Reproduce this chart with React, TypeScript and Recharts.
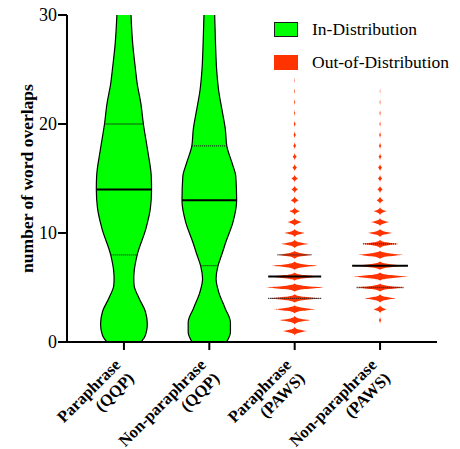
import React from 'react'
import {
  ComposedChart,
  Area,
  XAxis,
  YAxis,
  ReferenceLine,
  Legend,
  Label,
} from 'recharts'

const FONT = '"Liberation Serif", "Times New Roman", serif'
const GREEN = '#00ff00'
const RED = '#ff3300'
const HALF_WIDTH = 0.33 // max half-width of a violin, in category units

// category labels (two lines each)
const CATEGORY_TOP = ['Paraphrase', 'Non-paraphrase', 'Paraphrase', 'Non-paraphrase']
const CATEGORY_BOTTOM = ['(QQP)', '(QQP)', '(PAWS)', '(PAWS)']
const Y_TICKS = [0, 10, 20, 30]

// in-distribution violins: relative density read at these overlap counts
const QQP_PARA_Y = [0, 0.6, 1.6, 2.8, 4, 5.2, 5.8, 6.4, 8, 10.4, 12.3, 14, 15.2, 17.6, 20, 21.9, 23.7, 25, 27.4, 30]
const QQP_PARA_DENSITY = [0.61, 0.76, 0.83, 0.76, 0.54, 0.36, 0.35, 0.36, 0.47, 0.78, 0.94, 0.98, 0.97, 0.84, 0.69, 0.6, 0.47, 0.41, 0.31, 0.25]
const QQP_NON_Y = [0, 0.9, 1.8, 3.1, 4.6, 5.8, 7, 8, 9.2, 11, 13, 15.2, 16.4, 18, 19.5, 21.3, 23.1, 25, 27.4, 30]
const QQP_NON_DENSITY = [0.61, 0.75, 0.75, 0.56, 0.33, 0.24, 0.31, 0.44, 0.59, 0.84, 0.97, 0.94, 0.81, 0.62, 0.57, 0.45, 0.33, 0.26, 0.22, 0.19]

// out-of-distribution: discrete counts, density per integer value
const PAWS_PARA_Y = [1, 2, 3, 4, 5, 6, 7, 8, 9, 10, 11, 12, 13, 14, 15, 16, 17, 18, 19, 20, 21, 22, 23, 24]
const PAWS_PARA_DENSITY = [0.43, 0.53, 0.74, 0.94, 1.0, 0.94, 0.79, 0.61, 0.47, 0.34, 0.25, 0.18, 0.14, 0.11, 0.11, 0.08, 0.07, 0.05, 0.04, 0.03, 0.02, 0.02, 0.015, 0.01]
const PAWS_NON_Y = [2, 3, 4, 5, 6, 7, 8, 9, 10, 11, 12, 13, 14, 15, 16, 17, 18, 19, 20, 21, 22, 23]
const PAWS_NON_DENSITY = [0.04, 0.23, 0.54, 0.83, 1.0, 0.99, 0.81, 0.61, 0.41, 0.31, 0.22, 0.12, 0.09, 0.07, 0.07, 0.05, 0.04, 0.03, 0.02, 0.02, 0.015, 0.01]

// summary lines: value and the violin's relative width there
const MEDIANS = [14, 13, 6, 7]
const MEDIAN_DENSITY = [0.98, 0.97, 0.94, 0.99]
const Q1 = [8, 7, 4, 5]
const Q1_DENSITY = [0.47, 0.31, 0.94, 0.83]
const Q3 = [20, 18, 8, 9]
const Q3_DENSITY = [0.69, 0.62, 0.61, 0.61]

const LEGEND_ITEMS = [
  { label: 'In-Distribution', color: GREEN, border: '#1a1a1a' },
  { label: 'Out-of-Distribution', color: RED, border: RED },
]

// spike shape drawn around each integer value of the discrete violins
const KERNEL_OFFSETS = [-0.4, -0.25, -0.14, -0.06, 0, 0.06, 0.14, 0.25, 0.4]
const KERNEL_SHAPE = [0, 0.1, 0.38, 0.72, 1, 0.72, 0.38, 0.1, 0]

function violinRows(center: number, ys: number[], dens: number[]) {
  return ys.map((y, i) => ({
    y,
    range: [center - dens[i] * HALF_WIDTH, center + dens[i] * HALF_WIDTH],
  }))
}

function spikeRows(center: number, ys: number[], dens: number[]) {
  return ys.flatMap((y, i) =>
    KERNEL_OFFSETS.map((o, j) => ({
      y: y + o,
      range: [
        center - dens[i] * KERNEL_SHAPE[j] * HALF_WIDTH,
        center + dens[i] * KERNEL_SHAPE[j] * HALF_WIDTH,
      ],
    })),
  )
}

const violins = [
  { rows: violinRows(1, QQP_PARA_Y, QQP_PARA_DENSITY), fill: GREEN, stroke: '#000' },
  { rows: violinRows(2, QQP_NON_Y, QQP_NON_DENSITY), fill: GREEN, stroke: '#000' },
  { rows: spikeRows(3, PAWS_PARA_Y, PAWS_PARA_DENSITY), fill: RED, stroke: 'none' },
  { rows: spikeRows(4, PAWS_NON_Y, PAWS_NON_DENSITY), fill: RED, stroke: 'none' },
]

function CategoryTick({ x, y, payload }: any) {
  const i = Math.round(payload.value) - 1
  const style = { fontFamily: FONT, fontSize: 16.5, fontWeight: 'bold' as const, fill: '#000' }
  return (
    <g transform={`translate(${x},${y}) rotate(-45)`}>
      <text x={-13} y={9.5} textAnchor="end" {...style}>
        {CATEGORY_TOP[i]}
      </text>
      <text x={-13} y={28.5} textAnchor="end" {...style}>
        {CATEGORY_BOTTOM[i]}
      </text>
    </g>
  )
}

function YTitle({ viewBox }: any) {
  const cx = 27
  const cy = viewBox.y + viewBox.height / 2
  return (
    <text
      x={cx}
      y={cy}
      transform={`rotate(-90, ${cx}, ${cy})`}
      textAnchor="middle"
      dominantBaseline="central"
      fontFamily={FONT}
      fontSize={17.5}
      fontWeight="bold"
      fill="#000"
    >
      number of word overlaps
    </text>
  )
}

function LegendBox() {
  return (
    <div style={{ fontFamily: FONT, fontSize: 17.5, color: '#000' }}>
      {LEGEND_ITEMS.map(item => (
        <div key={item.label} style={{ display: 'flex', alignItems: 'center', height: 33 }}>
          <span
            style={{
              display: 'inline-block',
              width: 24,
              height: 15,
              boxSizing: 'border-box',
              background: item.color,
              border: `1px solid ${item.border}`,
              marginRight: 14,
            }}
          />
          <span>{item.label}</span>
        </div>
      ))}
    </div>
  )
}

export default function App() {
  return (
    <div style={{ position: 'absolute', left: 0, top: 0, background: '#fff' }}>
      <ComposedChart
        width={460}
        height={449}
        layout="vertical"
        margin={{ top: 15, right: 23, bottom: 0, left: 0 }}
      >
        <XAxis
          type="number"
          dataKey="range"
          domain={[1 - 0.667, 4 + 0.667]}
          ticks={[1, 2, 3, 4]}
          allowDataOverflow
          height={107}
          tickSize={8}
          tickMargin={0}
          tick={<CategoryTick />}
          axisLine={{ stroke: '#000', strokeWidth: 2 }}
          tickLine={{ stroke: '#000', strokeWidth: 2 }}
        />
        <YAxis
          type="number"
          dataKey="y"
          domain={[0, 30]}
          ticks={Y_TICKS}
          reversed
          allowDataOverflow
          width={67}
          tickSize={9}
          tickMargin={1}
          tick={{ fontSize: 18, fill: '#000', fontFamily: FONT }}
          axisLine={{ stroke: '#000', strokeWidth: 2 }}
          tickLine={{ stroke: '#000', strokeWidth: 2 }}
        >
          <Label content={<YTitle />} />
        </YAxis>
        <Legend
          layout="horizontal"
          align="center"
          verticalAlign="middle"
          content={<LegendBox />}
          wrapperStyle={{ top: 13, left: 274, width: 'auto' }}
        />
        {violins.map((v, i) => (
          <Area
            key={i}
            data={v.rows}
            dataKey="range"
            type="monotone"
            fill={v.fill}
            fillOpacity={1}
            stroke={v.stroke}
            strokeWidth={1.2}
            dot={false}
            activeDot={false}
            isAnimationActive={false}
          />
        ))}
        {MEDIANS.map((m, i) => (
          <ReferenceLine
            key={`med${i}`}
            segment={[
              { x: i + 1 - MEDIAN_DENSITY[i] * HALF_WIDTH, y: m },
              { x: i + 1 + MEDIAN_DENSITY[i] * HALF_WIDTH, y: m },
            ]}
            stroke="#000"
            strokeWidth={2}
          />
        ))}
        {Q1.map((q, i) => (
          <ReferenceLine
            key={`q1${i}`}
            segment={[
              { x: i + 1 - Q1_DENSITY[i] * HALF_WIDTH, y: q },
              { x: i + 1 + Q1_DENSITY[i] * HALF_WIDTH, y: q },
            ]}
            stroke="#222"
            strokeWidth={1.3}
            strokeDasharray="1 1"
          />
        ))}
        {Q3.map((q, i) => (
          <ReferenceLine
            key={`q3${i}`}
            segment={[
              { x: i + 1 - Q3_DENSITY[i] * HALF_WIDTH, y: q },
              { x: i + 1 + Q3_DENSITY[i] * HALF_WIDTH, y: q },
            ]}
            stroke="#222"
            strokeWidth={1.3}
            strokeDasharray="1 1"
          />
        ))}
      </ComposedChart>
    </div>
  )
}
